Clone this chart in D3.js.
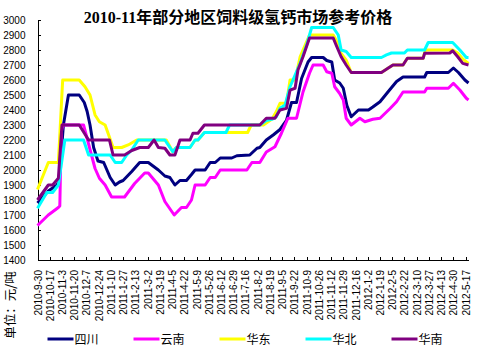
<!DOCTYPE html>
<html>
<head>
<meta charset="utf-8">
<script src="https://cdn.jsdelivr.net/npm/d3@7"></script>
<style>
  body { margin: 0; background: #fff; }
  svg { display: block; }
</style>
</head>
<body>
<svg id="chart" width="479" height="349"></svg>
<script>
// Weekly reference prices of feed-grade dicalcium phosphate, yuan per tonne
const chartTitle = "2010-11年部分地区饲料级氢钙市场参考价格";
const unitLabel = "单位：元/吨";

const xTickLabels = [
  "2010-9-30", "2010-10-17", "2010-11-3", "2010-11-20", "2010-12-7", "2010-12-24",
  "2011-1-10", "2011-1-27", "2011-2-13", "2011-3-2", "2011-3-19", "2011-4-5",
  "2011-4-22", "2011-5-9", "2011-5-26", "2011-6-12", "2011-6-29", "2011-7-16",
  "2011-8-2", "2011-8-19", "2011-9-5", "2011-9-22", "2011-10-9", "2011-10-26",
  "2011-11-12", "2011-11-29", "2011-12-16", "2012-1-2", "2012-1-19", "2012-2-5",
  "2012-2-22", "2012-3-10", "2012-3-27", "2012-4-13", "2012-4-30", "2012-5-17"
];
const yTickValues = d3.range(1400, 3001, 100);
const seriesNames = ["四川", "云南", "华东", "华北", "华南"];

const sichuan = [
  ["2010-9-30", 1780], ["2010-10-15", 1860], ["2010-10-27", 1900], ["2010-10-30", 1920],
  ["2010-11-1", 2050], ["2010-11-5", 2300], ["2010-11-12", 2500], ["2010-11-27", 2500],
  ["2010-12-4", 2450], ["2010-12-8", 2390], ["2010-12-12", 2300], ["2010-12-17", 2150],
  ["2010-12-23", 2060], ["2010-12-31", 2050], ["2011-1-9", 1950], ["2011-1-16", 1900],
  ["2011-1-22", 1920], ["2011-1-27", 1930], ["2011-2-8", 1990], ["2011-2-19", 2050],
  ["2011-3-3", 2050], ["2011-3-17", 2000], ["2011-3-26", 1960], ["2011-4-2", 1950],
  ["2011-4-9", 1900], ["2011-4-16", 1930], ["2011-4-25", 1930], ["2011-5-2", 1970],
  ["2011-5-7", 2000], ["2011-5-21", 2000], ["2011-5-28", 2050], ["2011-6-4", 2050],
  ["2011-6-11", 2080], ["2011-6-27", 2080], ["2011-7-4", 2095], ["2011-7-22", 2100],
  ["2011-8-1", 2145], ["2011-8-5", 2150], ["2011-8-14", 2200], ["2011-8-24", 2235],
  ["2011-9-2", 2270], ["2011-9-11", 2330], ["2011-9-18", 2450], ["2011-9-25", 2450],
  ["2011-10-2", 2610], ["2011-10-11", 2720], ["2011-10-16", 2750], ["2011-11-1", 2750],
  ["2011-11-6", 2730], ["2011-11-13", 2720], ["2011-11-17", 2600], ["2011-11-24", 2580],
  ["2011-11-29", 2545], ["2011-12-4", 2430], ["2011-12-10", 2355], ["2011-12-20", 2400],
  ["2012-1-3", 2400], ["2012-1-9", 2420], ["2012-1-19", 2455], ["2012-1-30", 2520],
  ["2012-2-11", 2590], ["2012-2-20", 2620], ["2012-3-21", 2620], ["2012-3-24", 2650],
  ["2012-4-23", 2650], ["2012-4-30", 2680], ["2012-5-7", 2650], ["2012-5-16", 2600],
  ["2012-5-21", 2580]
];

const yunnan = [
  ["2010-9-30", 1630], ["2010-10-15", 1700], ["2010-10-29", 1750], ["2010-10-31", 1760],
  ["2010-11-2", 2250], ["2010-11-4", 2300], ["2010-12-3", 2300], ["2010-12-8", 2210],
  ["2010-12-14", 2100], ["2010-12-19", 2010], ["2010-12-25", 1945], ["2011-1-2", 1900],
  ["2011-1-11", 1820], ["2011-1-19", 1820], ["2011-1-29", 1820], ["2011-2-12", 1910],
  ["2011-2-26", 1980], ["2011-3-3", 1980], ["2011-3-17", 1900], ["2011-3-26", 1790],
  ["2011-4-8", 1700], ["2011-4-18", 1750], ["2011-4-25", 1750], ["2011-5-2", 1800],
  ["2011-5-7", 1900], ["2011-5-21", 1900], ["2011-5-28", 1950], ["2011-6-4", 1950],
  ["2011-6-11", 2000], ["2011-7-18", 2000], ["2011-7-25", 2050], ["2011-8-5", 2050],
  ["2011-8-14", 2120], ["2011-8-26", 2155], ["2011-9-4", 2245], ["2011-9-13", 2345],
  ["2011-9-25", 2345], ["2011-10-4", 2520], ["2011-10-13", 2645], ["2011-10-18", 2700],
  ["2011-11-1", 2700], ["2011-11-6", 2655], ["2011-11-13", 2645], ["2011-11-17", 2555],
  ["2011-11-24", 2510], ["2011-11-29", 2467], ["2011-12-3", 2345], ["2011-12-10", 2300],
  ["2011-12-22", 2345], ["2011-12-29", 2322], ["2012-1-9", 2338], ["2012-1-19", 2345],
  ["2012-2-2", 2410], ["2012-2-11", 2455], ["2012-2-20", 2520], ["2012-3-21", 2520],
  ["2012-3-24", 2545], ["2012-4-23", 2545], ["2012-4-30", 2578], ["2012-5-9", 2533],
  ["2012-5-18", 2478], ["2012-5-21", 2467]
];

const huadong = [
  ["2010-9-30", 1870], ["2010-10-15", 2050], ["2010-10-29", 2050], ["2010-11-4", 2600],
  ["2010-11-27", 2600], ["2010-12-5", 2555], ["2010-12-12", 2500], ["2010-12-19", 2367],
  ["2010-12-25", 2322], ["2011-1-2", 2300], ["2011-1-11", 2178], ["2011-1-13", 2150],
  ["2011-1-25", 2150], ["2011-2-3", 2167], ["2011-2-15", 2200], ["2011-3-28", 2200],
  ["2011-4-6", 2122], ["2011-4-11", 2150], ["2011-4-30", 2150], ["2011-5-7", 2200],
  ["2011-5-11", 2200], ["2011-5-20", 2250], ["2011-7-19", 2250], ["2011-7-24", 2300],
  ["2011-8-10", 2300], ["2011-8-22", 2340], ["2011-8-28", 2390], ["2011-9-2", 2445],
  ["2011-9-11", 2445], ["2011-9-16", 2600], ["2011-9-23", 2600], ["2011-9-30", 2755],
  ["2011-10-13", 2900], ["2011-11-15", 2900], ["2011-11-19", 2867], ["2011-11-26", 2778],
  ["2011-12-3", 2733], ["2011-12-10", 2650], ["2012-1-21", 2650], ["2012-1-30", 2678],
  ["2012-2-6", 2700], ["2012-2-20", 2700], ["2012-2-26", 2745], ["2012-3-19", 2745],
  ["2012-3-22", 2800], ["2012-4-29", 2800], ["2012-5-6", 2780], ["2012-5-13", 2740],
  ["2012-5-21", 2710]
];

const huabei = [
  ["2010-9-30", 1745], ["2010-10-13", 1850], ["2010-10-21", 1850], ["2010-10-29", 1900],
  ["2010-11-7", 2200], ["2010-12-3", 2200], ["2010-12-10", 2100], ["2011-1-9", 2100],
  ["2011-1-16", 2050], ["2011-1-25", 2050], ["2011-2-1", 2100], ["2011-2-8", 2133],
  ["2011-2-17", 2200], ["2011-3-26", 2200], ["2011-4-6", 2122], ["2011-4-11", 2150],
  ["2011-4-30", 2150], ["2011-5-7", 2200], ["2011-5-11", 2200], ["2011-5-20", 2250],
  ["2011-6-19", 2250], ["2011-6-24", 2300], ["2011-8-5", 2300], ["2011-8-14", 2330],
  ["2011-8-23", 2340], ["2011-8-28", 2355], ["2011-9-2", 2411], ["2011-9-9", 2433],
  ["2011-9-16", 2555], ["2011-9-30", 2711], ["2011-10-9", 2833], ["2011-10-16", 2950],
  ["2011-11-15", 2950], ["2011-11-22", 2900], ["2011-11-26", 2800], ["2011-12-3", 2790],
  ["2011-12-10", 2750], ["2012-1-21", 2750], ["2012-1-28", 2767], ["2012-2-4", 2780],
  ["2012-2-22", 2780], ["2012-2-26", 2800], ["2012-3-21", 2800], ["2012-3-26", 2850],
  ["2012-4-29", 2850], ["2012-5-9", 2800], ["2012-5-18", 2750], ["2012-5-21", 2750]
];

const huanan = [
  ["2010-9-30", 1800], ["2010-10-15", 1900], ["2010-10-21", 1900], ["2010-10-29", 1945],
  ["2010-11-3", 2300], ["2010-11-27", 2300], ["2010-12-10", 2200], ["2011-1-8", 2200],
  ["2011-1-13", 2100], ["2011-1-29", 2100], ["2011-2-8", 2130], ["2011-2-19", 2150],
  ["2011-3-3", 2150], ["2011-3-11", 2200], ["2011-3-17", 2150], ["2011-3-26", 2145],
  ["2011-4-2", 2100], ["2011-4-9", 2100], ["2011-4-16", 2200], ["2011-4-30", 2200],
  ["2011-5-4", 2245], ["2011-5-11", 2245], ["2011-5-20", 2300], ["2011-8-5", 2300],
  ["2011-8-14", 2345], ["2011-8-26", 2345], ["2011-9-2", 2400], ["2011-9-11", 2411],
  ["2011-9-16", 2533], ["2011-9-23", 2545], ["2011-9-27", 2667], ["2011-10-4", 2755],
  ["2011-10-13", 2880], ["2011-11-15", 2880], ["2011-11-19", 2833], ["2011-11-26", 2755],
  ["2011-12-3", 2700], ["2011-12-10", 2650], ["2012-1-21", 2650], ["2012-1-30", 2678],
  ["2012-2-6", 2700], ["2012-2-20", 2700], ["2012-2-26", 2745], ["2012-3-19", 2745],
  ["2012-3-21", 2778], ["2012-4-25", 2780], ["2012-4-29", 2795], ["2012-5-6", 2755],
  ["2012-5-13", 2711], ["2012-5-21", 2700]
];

const seriesColors = ["#000080", "#FF00FF", "#FFFF00", "#00FFFF", "#800080"];
const seriesData = [sichuan, yunnan, huadong, huabei, huanan];

const parseDate = d3.timeParse("%Y-%m-%d");
const svg = d3.select("#chart");

const plot = { left: 37.5, right: 468.5, top: 20, bottom: 260 };

const x = d3.scaleTime()
  .domain([parseDate("2010-9-30"), parseDate("2012-5-21")])
  .range([plot.left, plot.right]);

const y = d3.scaleLinear()
  .domain([1400, 3000])
  .range([plot.bottom, plot.top]);

// Title
svg.append("text")
  .attr("x", 238)
  .attr("y", 23)
  .attr("text-anchor", "middle")
  .style("font-family", "'Liberation Serif', 'Noto Sans CJK SC', serif")
  .style("font-weight", "bold")
  .style("font-size", "16px")
  .text(chartTitle);

// Y axis
const yAxis = d3.axisLeft(y)
  .tickValues(yTickValues)
  .tickSizeInner(-3)
  .tickSizeOuter(0)
  .tickPadding(12)
  .tickFormat(d3.format("d"));

const gy = svg.append("g")
  .attr("transform", `translate(${plot.left},0)`)
  .call(yAxis);
gy.selectAll("text")
  .style("font-family", "'Liberation Sans', Arial, sans-serif")
  .style("font-size", "10px")
  .attr("fill", "#000");
gy.selectAll("line, path").attr("stroke", "#000").attr("shape-rendering", "crispEdges");

// X axis
const xTickDates = xTickLabels.map(parseDate);
const xAxis = d3.axisBottom(x)
  .tickValues(xTickDates)
  .tickSizeInner(-3)
  .tickSizeOuter(0)
  .tickFormat((d, i) => xTickLabels[i]);

const gx = svg.append("g")
  .attr("transform", `translate(0,${plot.bottom})`)
  .call(xAxis);
gx.selectAll("text")
  .style("font-family", "'Liberation Sans', Arial, sans-serif")
  .style("font-size", "10px")
  .attr("fill", "#000")
  .attr("transform", "rotate(-90)")
  .attr("x", -10)
  .attr("y", 0)
  .attr("dy", "0.35em")
  .style("text-anchor", "end");
gx.selectAll("line, path").attr("stroke", "#000").attr("shape-rendering", "crispEdges");

// Unit label along the left edge, centred on its own line box
svg.append("text")
  .attr("transform", "translate(10,305) rotate(-90)")
  .attr("text-anchor", "middle")
  .attr("dy", "0.36em")
  .style("font-family", "'Noto Sans CJK SC', sans-serif")
  .style("font-size", "12.5px")
  .text(unitLabel);

// Price lines
const line = d3.line()
  .x(d => x(parseDate(d[0])))
  .y(d => y(d[1]));

svg.append("g")
  .selectAll("path")
  .data(seriesData)
  .join("path")
  .attr("d", line)
  .attr("fill", "none")
  .attr("stroke", (d, i) => seriesColors[i])
  .attr("stroke-width", 3)
  .attr("stroke-linejoin", "round");

// Legend
const legend = svg.append("g")
  .selectAll("g")
  .data(seriesNames)
  .join("g")
  .attr("transform", (d, i) => `translate(${47.5 + i * 86},339)`);

legend.append("line")
  .attr("x1", 0).attr("x2", 26)
  .attr("y1", 0).attr("y2", 0)
  .attr("stroke", (d, i) => seriesColors[i])
  .attr("stroke-width", 3);

legend.append("text")
  .attr("x", 27)
  .attr("y", 0)
  .attr("dy", "0.38em")
  .style("font-family", "'Noto Sans CJK SC', sans-serif")
  .style("font-size", "12px")
  .text(d => d);
</script>
</body>
</html>
